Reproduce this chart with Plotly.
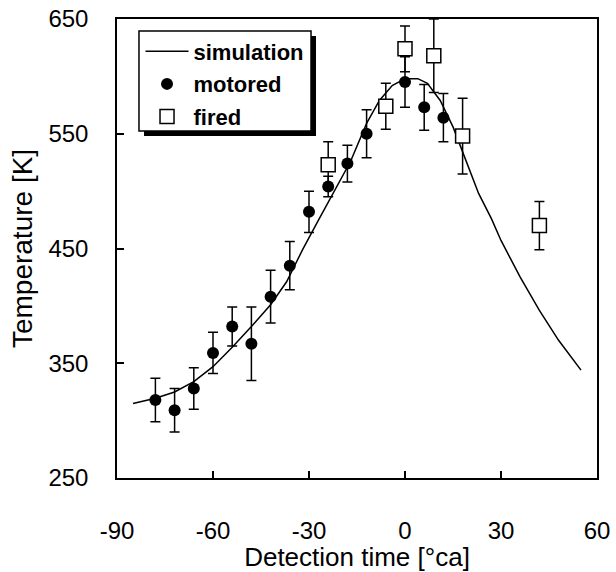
import plotly.graph_objects as go

# Simulation curve
sim_t = [-85, -78, -72, -66, -60, -54, -48, -42, -37, -32, -27, -23, -17, -12, -8, -4,
         0, 4, 7, 11, 15, 19, 23, 27, 30, 36, 42, 48, 55]
sim_T = [315, 319.5, 325, 334, 347, 364, 382, 401, 421, 449, 475, 495, 526, 559, 579, 592,
         598, 598, 594, 579, 556, 527, 498, 476, 457, 425, 396, 370, 344]

# Motored measurements
motored_t = [-78, -72, -66, -60, -54, -48, -42, -36, -30, -24, -18, -12, 0, 6, 12]
motored_T = [318, 309, 328, 359, 382, 367, 408, 435, 482, 504, 524, 550, 595, 573, 564]
motored_err = [19, 19, 18, 18, 17, 32, 23, 21, 18, 9, 16, 21, 22, 20, 21]

# Fired measurements
fired_t = [-24, -6, 0, 9, 18, 42]
fired_T = [523, 574, 624, 618, 548, 470]
fired_err = [20, 20, 20, 32, 33, 21]

x_ticks = [-90, -60, -30, 0, 30, 60]
y_ticks = [250, 350, 450, 550, 650]

FONT = "Liberation Sans, Arial, sans-serif"

fig = go.Figure()
fig.add_trace(go.Scatter(
    x=sim_t, y=sim_T, mode="lines", name="simulation", legendgroup="a",
    line=dict(color="black", width=1.5),
))
fig.add_trace(go.Scatter(
    x=motored_t, y=motored_T, mode="markers", name="motored", legendgroup="b",
    marker=dict(symbol="circle", size=12, color="black"),
    error_y=dict(type="data", array=motored_err, visible=True, color="black",
                 thickness=1.5, width=5),
))
fig.add_trace(go.Scatter(
    x=fired_t, y=fired_T, mode="markers", name="fired", legendgroup="c",
    marker=dict(symbol="square", size=14, color="white",
                line=dict(color="black", width=1.5)),
    error_y=dict(type="data", array=fired_err, visible=True, color="black",
                 thickness=1.5, width=5),
))

axis_common = dict(
    showgrid=False, zeroline=False, showline=True, linecolor="black", linewidth=1.5,
    mirror=True, ticks="inside", ticklen=7, tickwidth=1.5, tickcolor="black",
    tickfont=dict(family=FONT, size=24, color="black"), automargin=False,
)

fig.update_layout(
    width=616, height=572,
    margin=dict(l=117, r=19, t=19, b=94),
    paper_bgcolor="white", plot_bgcolor="white",
    showlegend=True,
    legend=dict(
        x=0.049, y=0.975, xanchor="left", yanchor="top",
        bgcolor="rgba(0,0,0,0)", borderwidth=0,
        font=dict(family=FONT, size=22, color="black", weight="bold"),
        tracegroupgap=1, itemwidth=43,
    ),
    xaxis=dict(
        range=[-90, 60], tickvals=x_ticks, ticktext=[str(v) for v in x_ticks],
        ticklabelstandoff=30,
        title=dict(text="Detection time [°ca]", standoff=12,
                   font=dict(family=FONT, size=26, color="black")),
        **axis_common,
    ),
    yaxis=dict(
        range=[250, 650], tickvals=y_ticks, ticktext=[str(v) for v in y_ticks],
        ticklabelstandoff=22,
        title=dict(text="Temperature [K]", standoff=8,
                   font=dict(family=FONT, size=28, color="black")),
        **axis_common,
    ),
)

# legend frame with drop shadow
fig.add_shape(type="rect", xref="paper", yref="paper",
              x0=0.0563, x1=0.4146, y0=0.7451, y1=0.9630,
              fillcolor="black", line=dict(width=0), layer="above")
fig.add_shape(type="rect", xref="paper", yref="paper",
              x0=0.0458, x1=0.4042, y0=0.756, y1=0.9739,
              fillcolor="white", line=dict(color="black", width=1.5), layer="above")

fig.write_html(
    "out.html",
    config={"displayModeBar": False},
    post_script="document.body.style.margin='0';document.body.style.overflow='hidden';",
)
